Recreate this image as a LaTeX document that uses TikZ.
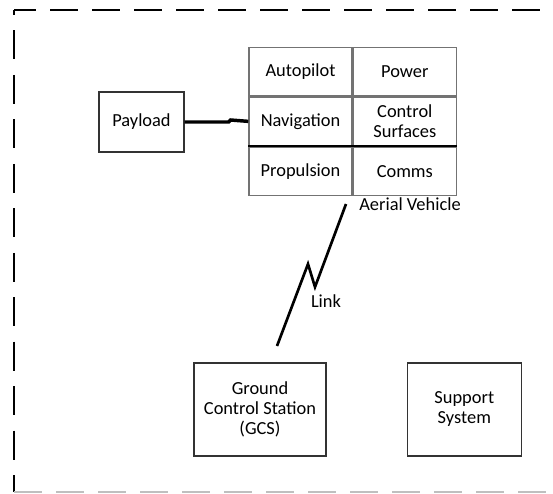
\documentclass[tikz,border=0pt]{standalone}
\usepackage{fontspec}
\setmainfont{Carlito}
\usetikzlibrary{positioning}

\begin{document}
\begin{tikzpicture}[
x=0.75pt, y=-0.75pt,
node distance=0pt,
every node/.style={
align=center,
font=\fontsize{13.8}{15}\selectfont,
inner sep=1pt
},
cell/.style={
draw=black!55,
line width=1pt,
minimum width=77.25pt,
minimum height=36.4pt
},
unit/.style={
draw=black!80,
line width=1pt
},
bus/.style={line width=2.6pt},
bolt/.style={line width=2pt, line join=miter}
]

\useasboundingbox (0,0) rectangle (553,493);

% system boundary (open on the right)
\draw[line width=1.5pt, dash pattern=on 21pt off 10.5pt, dash phase=4.5pt]
(14,10) -- (575,10);
\draw[line width=1.5pt, dash pattern=on 21.75pt off 11.6pt, dash phase=18pt]
(14,10) -- (14,492);
\draw[black!25, line width=1pt, dash pattern=on 21pt off 10.5pt]
(14,492) -- (575,492);

% aerial vehicle subsystems
\node[cell] (autopilot) at (300.5,71.5) {Autopilot};
\node[cell] (power) [right=of autopilot] {Power};
\node[cell] (nav) [below=of autopilot] {Navigation};
\node[cell] (surfaces) [right=of nav] {Control\\Surfaces};
\node[cell] (propulsion) [below=of nav] {Propulsion};
\node[cell] (comms) [right=of propulsion] {Comms};

\node (avlabel) at (410,204) {Aerial Vehicle};

\node[unit, minimum width=63.75pt, minimum height=45pt] (payload) at (141.5,122)
{Payload};

\node[unit, minimum width=99pt, minimum height=69.75pt] (gcs) at (260,409.5)
{Ground\\Control Station\\(GCS)};

\node[unit, minimum width=85.5pt, minimum height=69.75pt] (support) [right=60pt of gcs]
{Support\\System};

\node (linklabel) at (326,301) {Link};

\coordinate (linktop) at (346,204);
\coordinate (linkbot) at (277,346);

\draw[line width=1.4pt] (propulsion.north west) -- (comms.north east);
\draw[bus] (payload.east) -- ++(44,0) -- ++(2,-2) -- (nav.west);
\draw[bolt] (linktop) -- (315,287) -- (308,264) -- (linkbot);

\end{tikzpicture}
\end{document}
